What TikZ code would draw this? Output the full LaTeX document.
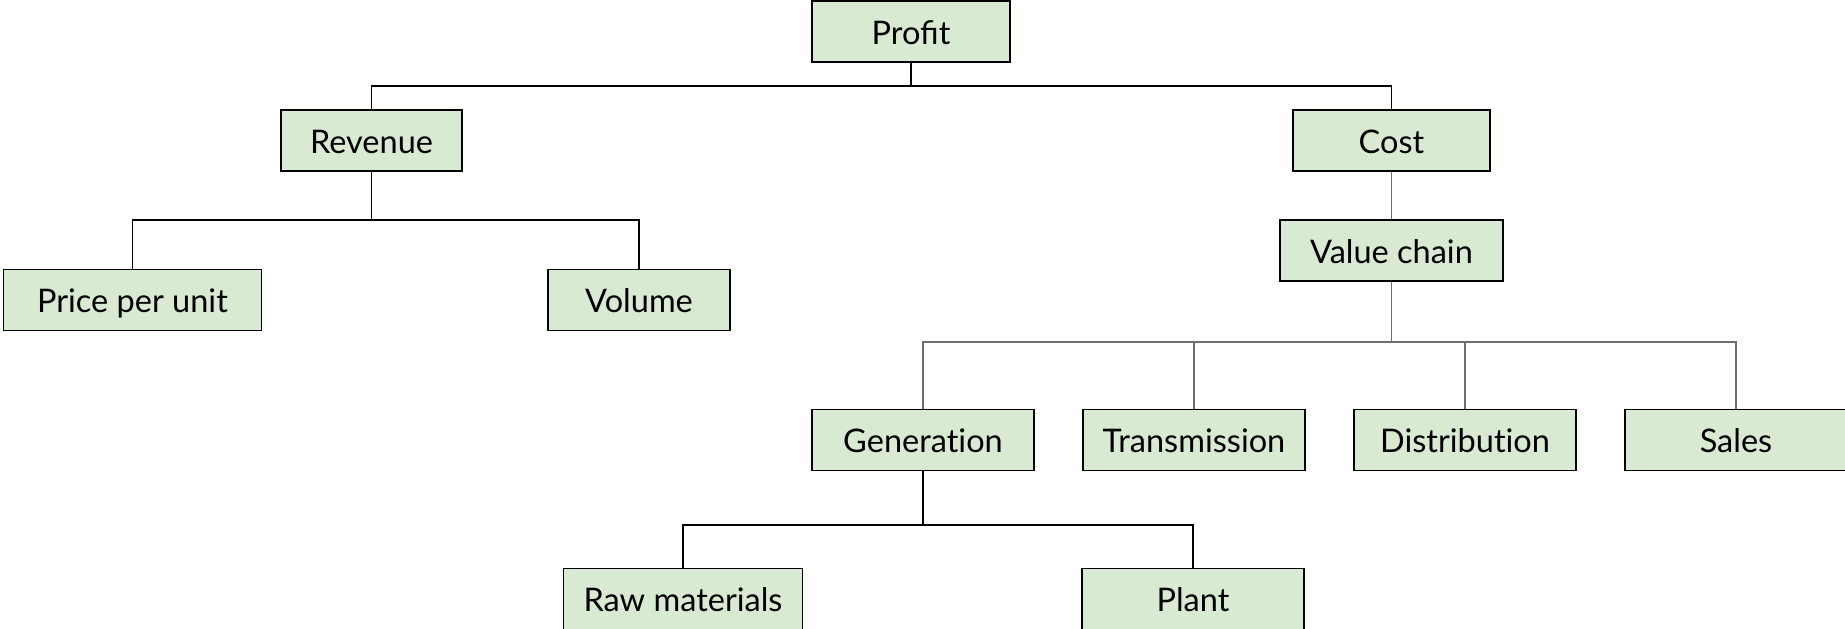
\documentclass[tikz,border=0pt]{standalone}
\usepackage{fontspec}
\setmainfont[Ligatures={NoCommon}]{Lato}
\definecolor{boxfill}{HTML}{D9EAD3}
\definecolor{linegray}{HTML}{6E6E6E}
\begin{document}
\begin{tikzpicture}[x=1pt,y=-1pt,
  box/.style={draw=black, fill=boxfill, line width=1.6pt, rectangle, inner sep=0pt,
    minimum height=61pt, font=\fontsize{32.5}{38}\selectfont, text=black,
    text height=25.5pt, text depth=0pt},
  conn/.style={draw=black, line width=1.8pt},
  conngray/.style={draw=linegray, line width=1.8pt}]
\useasboundingbox (0,0) rectangle (1845,629);
\clip (0,0) rectangle (1845,629);
% nodes
\node[box, minimum width=198pt] (profit) at (911,31.5) {Proﬁt};
\node[box, minimum width=181pt] (revenue) at (371.5,140.5) {Revenue};
\node[box, minimum width=197pt] (cost) at (1391.5,140.5) {Cost};
\node[box, minimum width=258pt] (price) at (132.5,300) {Price per unit};
\node[box, minimum width=182pt] (volume) at (639,300) {Volume};
\node[box, minimum width=223pt] (vchain) at (1391.5,250.5) {Value chain};
\node[box, minimum width=222pt] (gen) at (923,440) {Generation};
\node[box, minimum width=222pt] (trans) at (1194,440) {Transmission};
\node[box, minimum width=222pt] (dist) at (1465,440) {Distribution};
\node[box, minimum width=222pt] (sales) at (1736,440) {Sales};
\node[box, minimum width=239pt] (raw) at (683,599) {Raw materials};
\node[box, minimum width=222pt] (plant) at (1193,599) {Plant};
% bus coordinates
\coordinate (b1) at (0,86);
\coordinate (b2) at (0,220);
\coordinate (b3) at (0,342);
\coordinate (b4) at (0,525);
% Profit
\draw[conn] (profit.south) -- (profit.south |- b1);
\draw[conn] (revenue.north) -- (revenue.north |- b1) -- (cost.north |- b1) -- (cost.north);
% Revenue
\draw[conn] (revenue.south) -- (revenue.south |- b2);
\draw[conn] (price.north) -- (price.north |- b2) -- (volume.north |- b2) -- (volume.north);
% Cost
\draw[conngray] (cost.south) -- (vchain.north);
% Value chain
\draw[conngray] (vchain.south) -- (vchain.south |- b3);
\draw[conngray] (gen.north) -- (gen.north |- b3) -- (sales.north |- b3) -- (sales.north);
\draw[conngray] (trans.north) -- (trans.north |- b3);
\draw[conngray] (dist.north) -- (dist.north |- b3);
% Generation
\draw[conn] (gen.south) -- (gen.south |- b4);
\draw[conn] (raw.north) -- (raw.north |- b4) -- (plant.north |- b4) -- (plant.north);
\end{tikzpicture}
\end{document}
